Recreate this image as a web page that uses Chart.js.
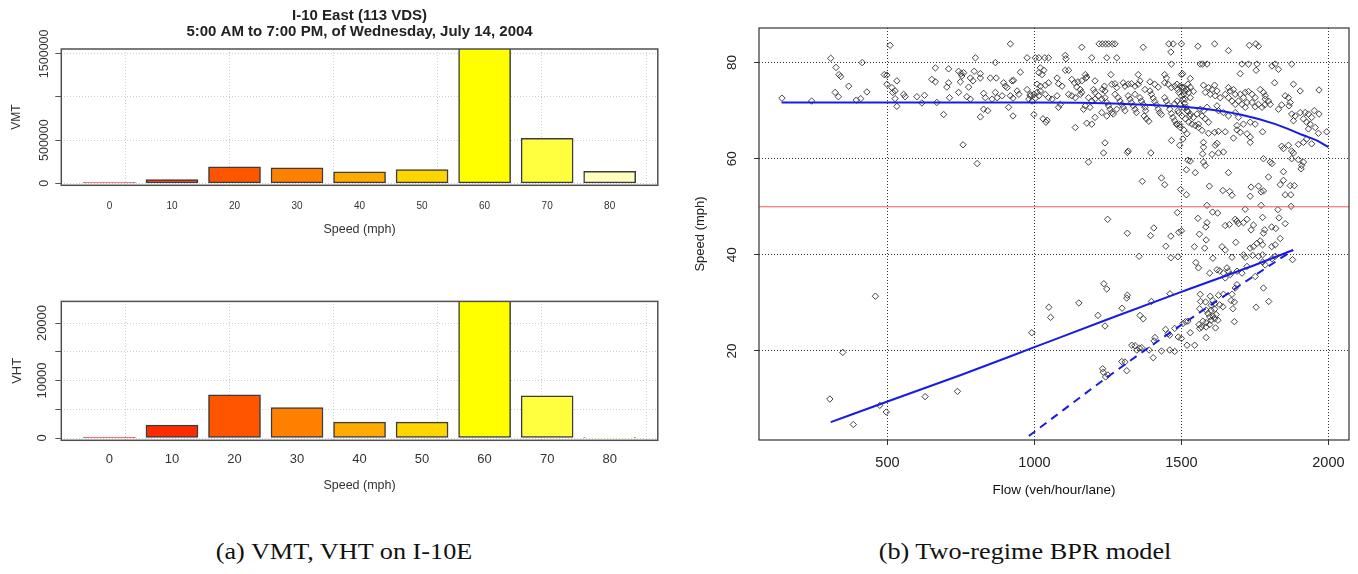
<!DOCTYPE html>
<html>
<head>
<meta charset="utf-8">
<script src="https://cdn.jsdelivr.net/npm/chart.js@4.4.1/dist/chart.umd.min.js"></script>
<style>
  body { margin: 0; background: #fff; width: 1358px; height: 574px; position: relative; overflow: hidden; }
  .panel { position: absolute; }
  .caption { position: absolute; top: 539px; width: 600px; text-align: center; font-family: "Liberation Serif", "Times New Roman", serif; font-size: 23px; line-height: 26px; color: #111; transform: scaleX(1.14); }
</style>
</head>
<body>
<div class="panel" style="left:0;top:0;width:680px;height:250px"><canvas id="vmtChart"></canvas></div>
<div class="panel" style="left:0;top:255px;width:680px;height:250px"><canvas id="vhtChart"></canvas></div>
<div class="panel" style="left:685px;top:0;width:673px;height:510px"><canvas id="bprChart"></canvas></div>
<div class="caption" style="left:44px">(a) VMT, VHT on I-10E</div>
<div class="caption" style="left:725px">(b) Two-regime BPR model</div>
<script>
// speed bins (mph) and the two bar panels
const speeds = [0, 10, 20, 30, 40, 50, 60, 70, 80];
const vmt = [8000, 42000, 190000, 178000, 132000, 158000, 1650000, 521000, 139000];
const vht = [120, 2240, 7490, 5310, 2770, 2770, 25400, 7320, 120];
const heatColors = ["#FF0000", "#FF2B00", "#FF5500", "#FF8000", "#FFAA00", "#FFD500", "#FFFF00", "#FFFF40", "#FFFFBF"];
// R grid() positions of the barplot, expressed in mph
const barGridAt = [-5.83, 10.83, 27.5, 44.17, 60.83, 77.5];
const vmtTicks = [0, 500000, 1000000, 1500000];
const vmtLabeled = [0, 500000, 1500000];
const vhtTicks = [0, 5000, 10000, 15000, 20000];
const vhtLabeled = [0, 10000, 20000];

// flow-speed observations [veh/hour/lane, mph]
const observations = [
  [141,72.6],[242,72.0],[307,80.9],[325,79.0],[335,77.5],[341,77.1],[368,75.1],[322,73.8],[333,72.9],[394,72.2],[409,72.5],[414,80.0],[430,73.9],
  [509,83.6],[918,83.9],[799,81.0],[867,80.0],[975,81.0],[1003,81.0],[1015,81.0],
  [489,77.5],[498,77.4],[532,76.2],[663,78.9],[708,78.7],[742,78.2],[750,77.7],[759,77.9],[753,77.2],[795,78.2],[816,77.7],[816,76.8],[782,76.8],[791,76.2],[850,76.8],[870,76.8],[952,78.0],
  [651,76.5],[663,76.0],[708,75.8],[702,74.9],[748,76.0],[776,74.9],[498,75.5],[515,74.8],[526,74.1],[518,73.8],[555,73.4],[560,72.9],[600,72.9],[626,73.2],[742,73.8],[770,72.9],[782,72.4],[827,73.6],[833,72.7],[867,73.8],[873,72.7],
  [895,75.8],[901,75.1],[907,74.8],[924,76.2],[929,76.3],[941,74.1],[947,73.4],[975,74.4],[986,73.1],[998,73.4],[1009,73.8],[1020,74.1],
  [526,72.5],[532,70.9],[617,71.6],[668,71.7],[711,72.7],[856,72.4],[918,73.1],[927,72.6],[890,73.1],
  [827,70.3],[841,70.0],[816,68.7],[691,69.2],[912,70.7],[927,68.9],[998,69.2],[1029,68.3],[757,62.9],[805,59.0],
  [1161,83.2],[1220,83.9],[1231,83.9],[1242,83.9],[1252,83.9],[1265,83.9],[1274,83.9],[1370,83.2],[1457,83.9],[1472,83.9],[1500,83.9],[1464,82.2],
  [1035,81.0],[1048,81.0],[1105,81.5],[1107,80.8],[1195,81.0],[1246,81.0],[1280,81.0],[1466,79.7],
  [1020,78.9],[1032,78.4],[1015,77.9],[1026,77.5],[1105,78.4],[1116,78.4],[1077,76.8],[1173,77.5],[1178,77.0],[1260,77.5],[1353,77.5],[1443,77.5],[1449,76.8],[1500,77.5],
  [1048,75.8],[1037,75.3],[1020,75.1],[1009,75.5],[1082,75.6],[1094,75.1],[1127,76.5],[1136,75.8],[1148,76.0],[1161,76.2],[1175,76.8],[1144,74.9],[1156,74.4],[1161,73.8],
  [1206,76.2],[1201,74.4],[1206,73.8],[1238,75.1],[1231,74.4],[1240,74.1],[1263,75.5],[1274,75.6],[1280,74.8],[1302,75.8],[1308,75.1],[1319,75.5],[1330,75.6],[1342,75.1],
  [1353,75.5],[1359,76.2],[1393,76.0],[1376,74.4],[1393,74.1],[1409,75.5],[1421,74.9],[1443,75.8],[1455,75.5],[1466,74.8],[1477,75.1],[1488,74.4],[1502,74.9],[1511,74.1],[1522,75.5],
  [986,73.4],[981,72.4],[992,72.0],[1003,72.6],[1015,73.1],[1037,73.4],[1048,72.7],[1060,72.4],[1077,73.1],[1088,71.3],[1082,70.7],[1116,73.4],[1127,73.1],[1139,72.7],[1156,73.4],
  [1184,72.7],[1195,72.0],[1206,72.4],[1189,70.7],[1173,71.0],[1167,70.3],[1218,73.1],[1229,72.4],[1240,72.7],[1246,71.7],[1252,71.0],[1257,70.3],[1263,69.6],
  [1274,73.4],[1285,72.7],[1291,72.0],[1297,71.3],[1302,70.7],[1308,70.0],[1280,70.3],[1268,69.3],[1319,73.1],[1325,72.4],[1330,71.7],[1336,71.0],[1342,70.3],[1347,69.6],
  [1342,73.4],[1359,72.7],[1364,72.0],[1370,71.3],[1376,70.7],[1378,70.0],[1373,68.9],[1381,68.3],[1389,67.8],[1398,73.4],[1404,72.6],[1409,71.9],[1415,71.2],[1421,70.3],
  [1426,69.6],[1432,69.2],[1443,72.7],[1449,72.0],[1455,71.2],[1460,70.3],[1466,69.4],[1471,68.6],[1477,67.9],[1483,67.2],[1494,67.1],[1500,73.1],[1505,72.4],[1511,71.5],
  [1517,70.7],[1522,69.8],[1528,68.9],[1488,70.0],[1477,71.4],
  [1043,68.0],[1039,67.6],[1139,66.5],[1178,67.4],[1195,67.2],[1206,68.6],[1229,69.6],[1246,68.9],[1240,63.3],[1235,61.2],[1319,61.6],[1316,61.3],[1396,61.2],
  [1466,63.8],[1494,62.8],[1505,64.1],[1184,59.3],[1522,59.7],[1517,57.7],
  [1556,83.4],[1613,83.9],[1660,82.5],[1731,83.6],[1753,83.9],[1762,83.4],
  [1564,79.7],[1572,79.7],[1587,79.7],[1706,79.7],[1728,79.7],[1757,79.7],[1819,79.7],[1875,79.7],[1700,77.7],[1754,78.4],[1808,79.3],[1830,78.6],[1504,77.7],[1530,76.7],
  [1817,75.8],[1881,75.5],[1904,74.1],[1968,74.3],
  [1485,75.5],[1496,75.1],[1508,74.8],[1519,74.4],[1530,74.9],[1491,73.8],[1508,73.4],[1525,73.8],[1541,74.0],[1513,72.4],[1530,72.7],
  [1575,75.3],[1592,74.8],[1604,74.4],[1613,75.3],[1621,74.1],[1598,73.4],[1615,73.1],[1632,72.7],[1581,73.8],[1660,74.8],[1666,74.1],[1677,74.4],[1683,73.4],[1700,73.4],
  [1711,72.7],[1717,73.8],[1728,74.0],[1740,73.4],[1751,72.7],[1768,74.4],[1779,73.8],[1785,73.1],[1796,72.0],[1802,71.3],
  [1649,73.4],[1660,72.7],[1672,72.0],[1683,71.3],[1694,72.0],[1706,71.3],[1717,70.7],[1723,71.7],[1740,71.7],[1751,70.8],[1762,71.3],[1774,70.7],[1783,71.2],[1785,72.4],
  [1853,73.1],[1864,72.7],[1870,71.7],[1866,71.0],[1841,71.2],[1830,70.3],[1904,69.6],[1921,69.6],[1932,69.3],[1943,68.6],[1875,69.3],[1887,68.9],[1881,67.9],[1915,68.3],
  [1926,67.6],[1938,67.2],[1932,66.2],[1952,70.0],[1968,69.3],[1955,66.5],[1966,65.3],[1994,65.6],
  [1485,72.0],[1496,71.3],[1508,70.7],[1519,70.0],[1530,69.3],[1491,69.6],[1502,68.9],[1513,68.3],[1525,67.6],[1536,67.2],[1547,66.9],[1558,67.2],[1541,68.6],[1553,69.3],
  [1564,70.3],[1575,70.0],[1587,70.7],[1570,68.9],[1581,68.3],[1592,67.6],[1485,67.2],[1496,66.5],[1508,66.0],[1558,66.5],[1570,65.9],[1592,65.3],[1613,65.5],[1626,65.7],
  [1649,65.6],[1621,71.0],[1626,70.0],[1643,69.6],[1660,68.9],[1683,69.6],[1694,68.6],[1689,66.9],[1711,67.2],[1734,67.6],[1751,67.2],[1776,65.6],[1689,66.0],[1700,65.5],
  [1723,65.2],[1734,64.5],
  [1519,65.2],[1575,63.4],[1575,62.4],[1572,61.0],[1604,60.9],[1615,62.8],[1621,63.2],[1626,61.2],[1643,61.4],[1734,63.4],[1677,64.3],[1841,62.6],[1847,62.1],[1864,62.8],
  [1875,61.6],[1881,61.2],[1898,63.0],[1915,63.4],[1926,64.1],[1943,63.1],
  [1530,59.5],[1575,59.3],[1581,58.6],[1779,60.0],[1802,59.3],[1808,59.0],[1875,60.0],[1898,59.8],[1915,59.3],[1909,58.6],[1907,57.9],
  [1367,55.3],[1432,56.0],[1443,54.6],[1497,53.6],[1517,52.5],[1249,47.4],[1486,48.8],[1316,44.5],[1406,45.6],[1395,44.0],[1464,43.9],[1491,44.7],[1500,45.0],[1447,41.8],
  [1356,39.7],[1464,39.4],[1488,39.6],[1236,34.0],[1246,32.9],[1316,31.6],[1461,31.9],
  [1547,57.1],[1660,57.1],[1847,57.3],[1796,56.2],[1595,54.3],[1641,53.4],[1664,53.2],[1672,52.4],[1737,54.1],[1762,54.3],[1734,52.2],[1771,53.1],[1779,53.3],[1836,54.6],
  [1847,55.5],[1870,54.4],[1884,54.4],[1853,52.5],[1872,52.5],
  [1587,50.3],[1606,48.9],[1623,48.7],[1717,49.5],[1771,50.3],[1828,49.4],[1873,50.1],[1556,47.6],[1587,46.7],[1583,45.8],[1649,46.1],[1663,46.3],[1683,47.4],[1689,47.0],
  [1694,46.5],[1711,46.7],[1723,47.4],[1737,45.2],[1745,46.2],[1776,47.8],[1783,45.2],[1779,44.5],[1807,45.8],[1821,45.5],[1832,47.7],[1836,43.4],[1853,46.5],[1561,44.3],
  [1584,43.1],[1685,42.6],[1757,42.4],[1768,42.9],[1776,42.1],[1807,41.7],[1819,42.1],[1734,41.4],[1745,41.7],[1544,41.7],[1579,41.4],[1638,41.7],[1649,41.0],[1672,39.5],
  [1711,40.0],[1717,39.5],[1742,39.9],[1762,39.7],[1776,40.0],[1878,39.0],[1607,39.3],[1549,38.4],[1558,37.3],[1596,36.2],[1621,36.9],[1630,36.7],[1643,36.2],[1655,37.3],
  [1660,36.6],[1666,35.9],[1649,35.2],[1689,36.6],[1706,36.2],[1723,37.6],[1776,38.5],[1785,37.9],[1808,39.2],[1819,39.7],[1689,33.8],[1683,33.1],[1751,35.5],[1779,33.1],
  [1564,31.8],[1598,31.4],[1626,31.6],[1643,31.8],[1672,31.8],
  [1359,27.4],[1370,26.7],[1240,25.2],[1446,24.5],[1455,23.6],[1460,23.3],[1410,22.8],[1407,22.1],[1489,22.9],[1500,22.6],[1477,24.7],[1505,25.7],[1514,26.1],[1522,26.2],
  [1530,23.8],[1562,24.7],[1545,21.2],[1519,21.2],[1584,22.8],[1565,30.3],[1582,30.2],[1607,30.5],[1613,29.8],[1601,29.5],[1630,29.6],[1641,29.2],[1669,30.5],[1675,28.8],
  [1680,30.2],[1562,28.8],[1584,28.5],[1601,28.5],[1613,28.7],[1590,27.8],[1596,27.1],[1607,27.3],[1613,26.7],[1618,27.6],[1624,26.4],[1601,26.4],[1573,26.2],[1584,25.9],
  [1596,25.5],[1560,25.5],[1568,25.0],[1616,24.8],[1584,25.0],[1680,26.1],[1754,29.1],[1797,30.3],[1232,16.3],[1234,15.6],[1242,14.6],[1250,15.0],[1297,17.8],[1308,17.7],
  [1314,15.9],[1331,21.2],[1342,21.1],[1357,20.6],[1365,20.7],[1348,20.2],[1390,20.2],[1404,18.6],[1432,20.0],[1460,20.2],[1477,19.9],
  [304,10.0],[348,19.7],[384,4.7],[459,31.4],[474,8.7],[496,7.3],[628,10.5],[738,11.6],[991,23.8],[1049,29.1],[1055,27.0],[1151,30.0],[1216,27.4],[1298,28.9],[1314,31.0],[1398,30.3]
];

// fitted BPR curves [flow, speed]
const upperRegime = [[140,71.7],[500,71.7],[1000,71.7],[1200,71.6],[1350,71.3],[1480,70.9],[1590,70.3],[1700,69.2],[1820,67.2],[1910,65.0],[1960,63.8],[2000,62.4]];
const lowerRegime = [[307,5.2],[500,9.5],[750,15.0],[1000,20.8],[1250,26.6],[1500,32.3],[1750,37.9],[1880,41.0]];
const lowerDashed = [[981,2.3],[1100,7.8],[1240,14.2],[1449,23.3],[1601,29.6],[1754,35.9],[1880,41.0]];
const thresholdSpeed = 50;
const flowMin = 63, flowMax = 2070;
const flowTicks = [500, 1000, 1500, 2000];
const speedTicks = [20, 40, 60, 80];

const SANS = '"Liberation Sans", Arial, sans-serif';
const setTicks = (list) => (s) => { s.ticks = list.map((v) => ({ value: v })); };

// R look: box round the plot and y tick labels written along the axis
const rStyle = {
  id: "rStyle",
  afterDraw(chart, args, opts) {
    const { ctx, chartArea: a } = chart;
    const y = chart.scales.y;
    ctx.save();
    ctx.strokeStyle = opts.boxColor;
    ctx.lineWidth = opts.boxWidth;
    ctx.strokeRect(a.left, a.top, a.right - a.left, a.bottom - a.top);
    ctx.fillStyle = opts.color;
    ctx.font = opts.font;
    ctx.textAlign = "center";
    ctx.textBaseline = "middle";
    y.ticks.forEach((t) => {
      if (!t.label) return;
      ctx.save();
      ctx.translate(opts.labelX, y.getPixelForValue(t.value));
      ctx.rotate(-Math.PI / 2);
      ctx.fillText(t.label, 0, 0);
      ctx.restore();
    });
    ctx.restore();
  },
};

function barPanel(canvas_name, values, cfg) {
  const config = {
    type: "bar",
    data: {
      datasets: [
        {
          data: speeds.map((s, i) => ({ x: s, y: values[i] })),
          backgroundColor: heatColors,
          borderColor: "#3c3c3c",
          borderWidth: 1.5,
          borderSkipped: false,
          barThickness: 52,
        },
      ],
    },
    options: {
      animation: false,
      responsive: true,
      maintainAspectRatio: false,
      layout: { padding: cfg.padding },
      plugins: {
        legend: { display: false },
        tooltip: { enabled: false },
        title: cfg.title,
        rStyle: { boxColor: "#505050", boxWidth: 1.5, color: "#333", font: cfg.yTickFont, labelX: cfg.labelX },
      },
      scales: {
        x: {
          type: "linear",
          offset: false,
          min: -7.7,
          max: 87.7,
          afterBuildTicks: setTicks(speeds),
          afterFit: (s) => { s.height = 64.7; },
          grid: { display: false, drawTicks: false },
          border: { display: false },
          ticks: { autoSkip: false, maxRotation: 0, color: "#333", font: { family: SANS, size: cfg.xTickSize }, padding: cfg.xTickPad },
          title: { display: true, text: "Speed (mph)", color: "#333", font: { family: SANS, size: 12.5 }, padding: { top: 0, bottom: cfg.xTitlePad } },
        },
        xg: {
          type: "linear",
          position: "top",
          offset: false,
          min: -7.7,
          max: 87.7,
          afterBuildTicks: setTicks(barGridAt),
          afterFit: (s) => { s.height = 0; },
          ticks: { display: false },
          grid: { color: "#cfcfcf", drawTicks: false },
          border: { display: false, dash: [1, 2] },
        },
        y: {
          min: cfg.yMin,
          max: cfg.yMax,
          afterBuildTicks: setTicks(cfg.ticks),
          afterFit: (s) => { s.width = 61.3; },
          ticks: {
            display: false,
            callback: (v) => (cfg.labeled.includes(v) ? String(v) : ""),
          },
          grid: { color: "#cfcfcf", tickColor: "#555", tickLength: 6 },
          border: { display: false, dash: [1, 2] },
          title: { display: true, text: cfg.yTitle, color: "#333", font: { family: SANS, size: cfg.yTitleSize }, padding: { top: cfg.yTitlePad, bottom: 0 } },
        },
      },
    },
    plugins: [rStyle],
  };
  return new Chart(document.getElementById(canvas_name), config);
}

barPanel("vmtChart", vmt, {
  padding: { left: 0, right: 22.2, top: 0, bottom: 0 },
  title: {
    display: true,
    fullSize: false,
    text: ["I-10 East (113 VDS)", "5:00 AM to 7:00 PM, of Wednesday, July 14, 2004"],
    color: "#222",
    font: { family: SANS, size: 15, weight: "bold", lineHeight: "16px" },
    padding: { top: 7.5, bottom: 9.5 },
  },
  yMin: -23000, yMax: 1556000, ticks: vmtTicks, labeled: vmtLabeled,
  yTitle: "VMT", yTitleSize: 12, yTitlePad: 9.8,
  yTickFont: "12.5px " + SANS, labelX: 44.4,
  xTickSize: 10, xTickPad: 14.7, xTitlePad: 12.5,
});

barPanel("vhtChart", vht, {
  padding: { left: 0, right: 22.2, top: 46.4, bottom: 0 },
  title: { display: false },
  yMin: -400, yMax: 23760, ticks: vhtTicks, labeled: vhtLabeled,
  yTitle: "VHT", yTitleSize: 13, yTitlePad: 9.2,
  yTickFont: "13px " + SANS, labelX: 42.3,
  xTickSize: 13, xTickPad: 11.6, xTitlePad: 11.7,
});

const asXY = (pairs) => pairs.map(([x, y]) => ({ x: x, y: y }));

new Chart(document.getElementById("bprChart"), {
  type: "scatter",
  data: {
    datasets: [
      { label: "Upper regime", data: asXY(upperRegime), showLine: true, borderColor: "#1a1ae6", borderWidth: 2, pointRadius: 0, cubicInterpolationMode: "monotone" },
      { label: "Lower regime", data: asXY(lowerRegime), showLine: true, borderColor: "#1a1ae6", borderWidth: 2, pointRadius: 0, cubicInterpolationMode: "monotone" },
      { label: "Lower regime (dashed)", data: asXY(lowerDashed), showLine: true, borderColor: "#1a1ae6", borderWidth: 2, borderDash: [8, 6], pointRadius: 0, cubicInterpolationMode: "monotone" },
      { label: "50 mph", data: [{ x: flowMin, y: thresholdSpeed }, { x: flowMax, y: thresholdSpeed }], showLine: true, borderColor: "#f05a5a", borderWidth: 1, pointRadius: 0 },
      { label: "Observed", data: asXY(observations), pointStyle: "rectRot", pointRadius: 3.2, borderWidth: 1, borderColor: "rgba(50,50,50,0.9)", backgroundColor: "rgba(0,0,0,0)" },
    ],
  },
  options: {
    animation: false,
    responsive: true,
    maintainAspectRatio: false,
    layout: { padding: { left: 0, right: 9, top: 28, bottom: 0 } },
    plugins: {
      legend: { display: false },
      tooltip: { enabled: false },
      rStyle: { boxColor: "#333", boxWidth: 1.2, color: "#222", font: "13.5px " + SANS, labelX: 47.5 },
    },
    scales: {
      x: {
        type: "linear",
        min: flowMin,
        max: flowMax,
        afterBuildTicks: setTicks(flowTicks),
        afterFit: (s) => { s.height = 70; },
        ticks: { color: "#222", font: { family: SANS, size: 14.5 }, padding: 9.6, callback: (v) => String(v) },
        grid: { color: "#333", tickColor: "#333", tickLength: 5 },
        border: { display: false, dash: [1, 2] },
        title: { display: true, text: "Flow (veh/hour/lane)", color: "#111", font: { family: SANS, size: 13.5 }, padding: { top: 0, bottom: 11.9 } },
      },
      y: {
        min: 1.48,
        max: 87.2,
        afterBuildTicks: setTicks(speedTicks),
        afterFit: (s) => { s.width = 74; },
        ticks: { display: false, callback: (v) => String(v) },
        grid: { color: "#333", tickColor: "#333", tickLength: 5 },
        border: { display: false, dash: [1, 2] },
        title: { display: true, text: "Speed (mph)", color: "#222", font: { family: SANS, size: 13 }, padding: { top: 7.2, bottom: 0 } },
      },
    },
  },
  plugins: [rStyle],
});
</script>
</body>
</html>
